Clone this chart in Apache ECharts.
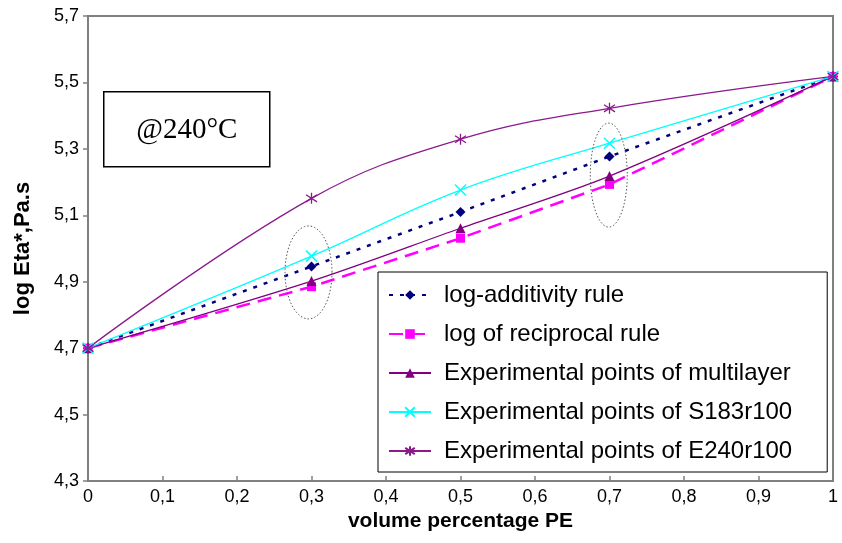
<!DOCTYPE html>
<html>
<head>
<meta charset="utf-8">
<script src="https://cdn.jsdelivr.net/npm/echarts@6/dist/echarts.min.js"></script>
<style>
  html, body { margin: 0; padding: 0; background: #fff; }
  #chart { width: 842px; height: 543px; }
</style>
</head>
<body>
<div id="chart"></div>
<script>
// Volume fraction of PE
const fractions = [0, 0.3, 0.5, 0.7, 1];

// log of complex viscosity (log Eta*, Pa.s) for each series
const logAdditivity = [4.70, 4.946, 5.110, 5.277, 5.518];
const logReciprocal = [4.70, 4.885, 5.031, 5.193, 5.518];
const multilayer    = [4.70, 4.902, 5.061, 5.218, 5.518];
const s183r100      = [4.70, 4.977, 5.176, 5.317, 5.518];
const e240r100      = [4.70, 5.151, 5.329, 5.422, 5.518];

const seriesNames = [
  'log-additivity rule',
  'log of reciprocal rule',
  'Experimental points of multilayer',
  'Experimental points of S183r100',
  'Experimental points of E240r100'
];

// Axis ranges and tick steps
const xRange = [0, 1, 0.1];
const yRange = [4.3, 5.7, 0.2];

// Groups of points circled with dotted ellipses: [fraction, log Eta*]
const circledGroups = [[0.296, 4.928], [0.699, 5.221]];

const SANS = "'Liberation Sans', Arial, sans-serif";

function pairs(ys) { return fractions.map((x, i) => [x, ys[i]]); }
function comma(v, digits) {
  if (v === 0 || v === 1) return String(v);
  return v.toFixed(digits).replace('.', ',');
}

const chart = echarts.init(document.getElementById('chart'), null, { renderer: 'canvas' });

const STAR = 'path://M5,0L5,10M0.7,1.8L9.3,8.2M9.3,1.8L0.7,8.2';
const XMARK = 'path://M0,0L10,10M10,0L0,10';

const option = {
  animation: false,
  backgroundColor: '#fff',
  grid: {
    left: 88, right: 9, top: 16, bottom: 62,
    show: true, borderColor: '#808080', borderWidth: 2, backgroundColor: 'transparent'
  },
  xAxis: {
    type: 'value', min: xRange[0], max: xRange[1], interval: xRange[2],
    name: 'volume percentage PE', nameLocation: 'middle', nameGap: 30,
    nameTextStyle: { fontFamily: SANS, fontWeight: 'bold', fontSize: 21, color: '#000' },
    axisLine: { lineStyle: { color: '#808080', width: 2 } },
    axisTick: { inside: true, length: 5, lineStyle: { color: '#808080', width: 1.5 } },
    axisLabel: { fontFamily: SANS, fontSize: 18, color: '#000', margin: 7,
                 formatter: v => comma(v, 1) },
    splitLine: { show: false }
  },
  yAxis: {
    type: 'value', min: yRange[0], max: yRange[1], interval: yRange[2],
    name: 'log Eta*,Pa.s', nameLocation: 'middle', nameGap: 54,
    nameTextStyle: { fontFamily: SANS, fontWeight: 'bold', fontSize: 22, color: '#000' },
    axisLine: { lineStyle: { color: '#808080', width: 2 } },
    axisTick: { inside: false, length: 5, lineStyle: { color: '#808080', width: 1.5 } },
    axisLabel: { fontFamily: SANS, fontSize: 18, color: '#000', margin: 9,
                 formatter: v => comma(v, 1) },
    splitLine: { show: false }
  },
  legend: {
    orient: 'vertical', left: 378, top: 272,
    padding: [11, 35, 9, 10],
    itemWidth: 42, itemHeight: 12, itemGap: 15,
    backgroundColor: '#fff', borderColor: '#000', borderWidth: 1,
    textStyle: { fontFamily: SANS, fontSize: 24, color: '#000', padding: [0, 0, 0, 8] },
    data: seriesNames
  },
  series: [
    {
      name: seriesNames[0], type: 'line', data: pairs(logAdditivity),
      symbol: 'diamond', symbolSize: 10,
      itemStyle: { color: '#000080' },
      lineStyle: { color: '#000080', width: 2.5, type: [4, 7] }
    },
    {
      name: seriesNames[1], type: 'line', data: pairs(logReciprocal),
      symbol: 'rect', symbolSize: 9,
      itemStyle: { color: '#FF00FF' },
      lineStyle: { color: '#FF00FF', width: 2.5, type: [14, 8] }
    },
    {
      name: seriesNames[2], type: 'line', data: pairs(multilayer), smooth: 0.3,
      symbol: 'triangle', symbolSize: 10,
      itemStyle: { color: '#800080' },
      lineStyle: { color: '#800080', width: 1.3 }
    },
    {
      name: seriesNames[3], type: 'line', data: pairs(s183r100), smooth: 0.4,
      symbol: XMARK, symbolSize: 11,
      itemStyle: { color: '#00FFFF', borderColor: '#00FFFF', borderWidth: 1.5 },
      lineStyle: { color: '#00FFFF', width: 1.3 }
    },
    {
      name: seriesNames[4], type: 'line', data: pairs(e240r100), smooth: 0.4,
      symbol: STAR, symbolSize: 11,
      itemStyle: { color: '#8B1A8B', borderColor: '#8B1A8B', borderWidth: 1.3 },
      lineStyle: { color: '#8B1A8B', width: 1.3 }
    }
  ]
};

chart.setOption(option);

// Dotted ellipse outline around a data point, radii in pixels
function ellipsePoints(center, rx, ry) {
  const c = chart.convertToPixel({ gridIndex: 0 }, center);
  const pts = [];
  for (let i = 0; i < 72; i++) {
    const a = (i / 72) * Math.PI * 2;
    pts.push([c[0] + rx * Math.cos(a), c[1] + ry * Math.sin(a)]);
  }
  return pts;
}

const ellipseRadii = [[23.5, 46.5], [18.5, 52]];

chart.setOption({
  graphic: [
    {
      type: 'group', left: 103, top: 91,
      children: [
        { type: 'rect', shape: { x: 0, y: 0, width: 166, height: 75 },
          style: { fill: '#fff', stroke: '#000', lineWidth: 1.5 } },
        { type: 'text', x: 83, y: 39,
          style: { text: '@240°C', font: "29px 'Liberation Serif', 'Times New Roman', serif",
                   fill: '#000', textAlign: 'center', textVerticalAlign: 'middle' } }
      ]
    }
  ].concat(circledGroups.map((g, i) => ({
    type: 'polygon',
    shape: { points: ellipsePoints(g, ellipseRadii[i][0], ellipseRadii[i][1]) },
    style: { fill: 'none', stroke: '#555', lineWidth: 1, lineDash: [1.5, 2] },
    z: 10
  })))
});
</script>
</body>
</html>
